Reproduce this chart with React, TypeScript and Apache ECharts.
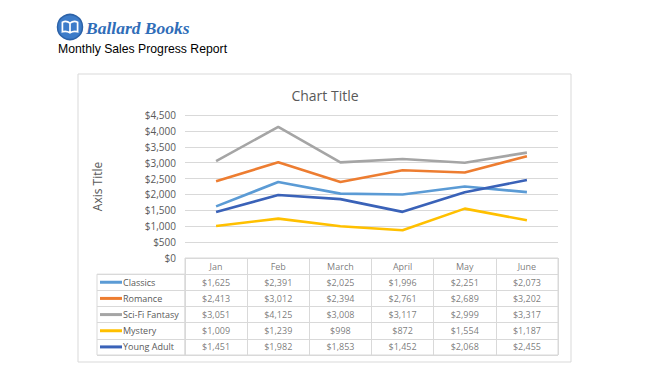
import React, { useEffect, useRef } from "react";
import * as echarts from "echarts";

const months = ["Jan", "Feb", "March", "April", "May", "June"];
const seriesNames = ["Classics", "Romance", "Sci-Fi Fantasy", "Mystery", "Young Adult"];
const classics = [1625, 2391, 2025, 1996, 2251, 2073];
const romance = [2413, 3012, 2394, 2761, 2689, 3202];
const scifi = [3051, 4125, 3008, 3117, 2999, 3317];
const mystery = [1009, 1239, 998, 872, 1554, 1187];
const youngAdult = [1451, 1982, 1853, 1452, 2068, 2455];
const allValues = [classics, romance, scifi, mystery, youngAdult];
const colors = ["#5B9BD5", "#ED7D31", "#A5A5A5", "#FFC000", "#3A62B8"];
const yMin = 0;
const yMax = 4500;
const yStep = 500;

const fmt = (v: number) => "$" + v.toLocaleString("en-US");

const BOOK =
  "M-8,-5 C-5,-6.5 -2.5,-6 0,-4 C2.5,-6 5,-6.5 8,-5 L8,5 C5,4 2.5,4.5 0,6 C-2.5,4.5 -5,4 -8,5 Z M0,-4 L0,6";

export default function App() {
  const ref = useRef<HTMLDivElement>(null);
  useEffect(() => {
    if (!ref.current) return;
    echarts.graphic.registerShape("logo", echarts.graphic.extendPath(BOOK, {}));
    const chart = echarts.init(ref.current, null, { renderer: "svg" });
    const font = "Open Sans, sans-serif";
    const textColor = "#595959";
    const border = "#D9D9D9";
    const rowKeys = ["__hdr", ...seriesNames];
    const tableTop = 258;
    const tableH = 97;
    const rowH = tableH / 6;
    const tableFont = 9;

    const cellData: any[] = [];
    months.forEach((m, i) => cellData.push({ value: [i, 0], label: { formatter: m } }));
    allValues.forEach((vals, s) =>
      vals.forEach((v, i) => cellData.push({ value: [i, s + 1], label: { formatter: fmt(v) } }))
    );

    const rich: any = { t: { fontFamily: font, fontSize: tableFont, color: textColor, padding: [0, 0, 0, 1] } };
    colors.forEach((c, i) => {
      rich["m" + i] = { width: 22, height: 3, backgroundColor: c };
    });

    const option: any = {
      animation: false,
      backgroundColor: "#ffffff",
      textStyle: { fontFamily: font },
      title: {
        text: "Chart Title",
        left: 320,
        textAlign: "center",
        top: 83,
        textStyle: { fontFamily: font, fontSize: 14, fontWeight: "normal", color: textColor },
      },
      graphic: [
        {
          type: "rect",
          shape: { x: 78, y: 74, width: 493, height: 288 },
          style: { fill: "none", stroke: border, lineWidth: 1 },
          silent: true,
        },
        {
          type: "circle",
          shape: { cx: 70, cy: 27, r: 12.5 },
          style: { fill: "#3D7CC9", stroke: "#2C62A8", lineWidth: 1.5 },
        },
        {
          type: "logo",
          x: 70,
          y: 27,
          scaleX: 0.95,
          scaleY: 0.95,
          style: { fill: "none", stroke: "#ffffff", lineWidth: 1.8 },
        },
        {
          type: "text",
          x: 86,
          y: 28,
          style: {
            text: "Ballard Books",
            fontFamily: "Liberation Serif, serif",
            fontStyle: "italic",
            fontWeight: "bold",
            fontSize: 17.5,
            fill: "#2F6DB8",
            textVerticalAlign: "middle",
          },
        },
        {
          type: "text",
          x: 58,
          y: 49,
          scaleX: 0.94,
          style: {
            text: "Monthly Sales Progress Report",
            fontFamily: "Liberation Sans, sans-serif",
            fontSize: 13,
            fill: "#000000",
            textVerticalAlign: "middle",
          },
        },
      ],
      grid: [
        { left: 185, width: 373, top: 115, height: 143, containLabel: false },
        {
          left: 185,
          width: 373,
          top: tableTop,
          height: tableH,
          show: true,
          borderColor: border,
          borderWidth: 1,
        },
        {
          left: 97,
          width: 88,
          top: tableTop + rowH,
          height: tableH - rowH,
          show: true,
          borderColor: border,
          borderWidth: 1,
        },
      ],
      xAxis: [
        { gridIndex: 0, type: "category", data: months, boundaryGap: true, show: false },
        {
          gridIndex: 1,
          type: "category",
          data: months,
          boundaryGap: true,
          axisLine: { show: false },
          axisTick: { show: false },
          axisLabel: { show: false },
          splitLine: { show: true, interval: 0, lineStyle: { color: border, width: 1 } },
        },
        { gridIndex: 2, type: "value", min: 0, max: 1, show: false },
      ],
      yAxis: [
        {
          gridIndex: 0,
          type: "value",
          min: yMin,
          max: yMax,
          interval: yStep,
          axisLine: { show: false },
          axisTick: { show: false },
          axisLabel: {
            formatter: (v: number) => fmt(v),
            color: textColor,
            fontSize: 10,
            fontFamily: font,
            margin: 9,
          },
          splitLine: { lineStyle: { color: border, width: 1 } },
          name: "Axis Title",
          nameLocation: "middle",
          nameGap: 82,
          nameRotate: 90,
          nameTextStyle: { color: textColor, fontSize: 12, fontFamily: font },
        },
        {
          gridIndex: 1,
          type: "category",
          data: rowKeys,
          inverse: true,
          boundaryGap: true,
          axisLine: { show: false },
          axisTick: { show: false },
          axisLabel: { show: false },
          splitLine: { show: true, interval: 0, lineStyle: { color: border, width: 1 } },
        },
        {
          gridIndex: 2,
          type: "category",
          data: seriesNames,
          inverse: true,
          boundaryGap: true,
          axisLine: { show: false },
          axisTick: { show: false },
          axisLabel: {
            inside: true,
            margin: 3,
            interval: 0,
            formatter: (v: string, i: number) => `{m${i}|}{t|${v}}`,
            rich,
          },
          splitLine: { show: true, interval: 0, lineStyle: { color: border, width: 1 } },
        },
      ],
      series: [
        ...seriesNames.map((n, i) => ({
          name: n,
          type: "line",
          xAxisIndex: 0,
          yAxisIndex: 0,
          data: allValues[i],
          symbol: "none",
          lineStyle: { color: colors[i], width: 2.6 },
          itemStyle: { color: colors[i] },
          z: 3,
        })),
        {
          type: "scatter",
          xAxisIndex: 1,
          yAxisIndex: 1,
          symbolSize: 0,
          silent: true,
          data: cellData,
          label: {
            show: true,
            position: "inside",
            color: textColor,
            fontSize: tableFont,
            fontFamily: font,
          },
        },
      ],
    };
    chart.setOption(option);
    return () => chart.dispose();
  }, []);
  return (
    <div
      ref={ref}
      style={{ position: "fixed", left: 0, top: 0, width: 650, height: 384 }}
    />
  );
}
